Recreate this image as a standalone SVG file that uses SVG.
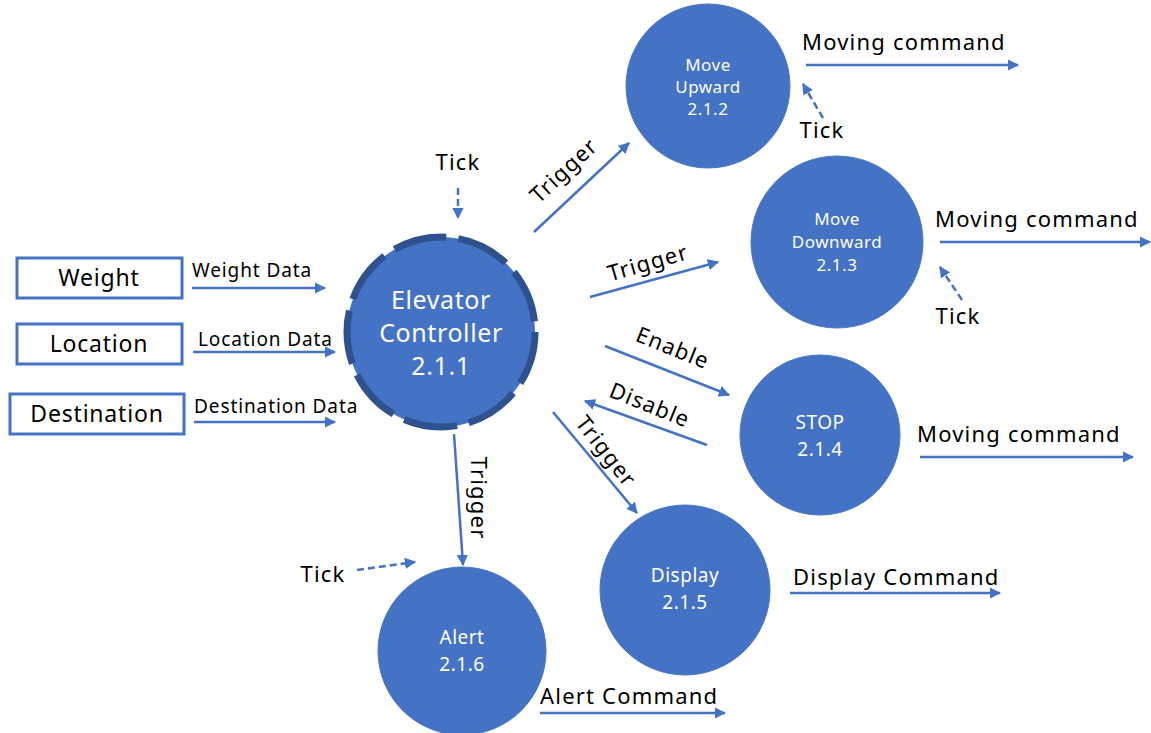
<svg xmlns="http://www.w3.org/2000/svg" width="1151" height="733" viewBox="0 0 1151 733">
  <style>
    text { font-family: "Noto Sans", "Open Sans", "Liberation Sans", sans-serif; }
    .proc { fill: #4472C4; stroke: #4A76C2; stroke-width: 1; }
    .ctrl { fill: #4472C4; stroke: #2F528F; stroke-width: 7; stroke-dasharray: 54 12; }
    .ext { fill: #FFFFFF; stroke: #4472C4; stroke-width: 3; }
    .in { fill: #FFFFFF; font-size: 17px; letter-spacing: 0.5px; text-anchor: middle; }
    .in2 { fill: #FFFFFF; font-size: 19px; letter-spacing: 0.5px; text-anchor: middle; }
    .big { fill: #FFFFFF; font-size: 25px; letter-spacing: 0.6px; text-anchor: middle; }
    .ext-t { fill: #000000; font-size: 23px; letter-spacing: 0.8px; text-anchor: middle; }
    .lbl { fill: #000000; font-size: 22px; letter-spacing: 1.2px; }
    .sm { fill: #000000; font-size: 19px; letter-spacing: 0.9px; }
    .flow { stroke: #4472C4; stroke-width: 2.5; fill: none; marker-end: url(#ah); }
    .tick { stroke: #4472C4; stroke-width: 2.5; fill: none; stroke-dasharray: 7 4; marker-end: url(#ah); }
  </style>
  <defs>
    <marker id="ah" viewBox="0 0 10 10" refX="9" refY="5" markerWidth="4.5" markerHeight="4.5" orient="auto" markerUnits="strokeWidth">
      <path d="M0,0 L10,5 L0,10 z" fill="#4472C4"/>
    </marker>
  </defs>

  <!-- external entities -->
  <g id="weight">
    <rect class="ext" x="17" y="258" width="165" height="40"/>
    <text class="ext-t" x="99" y="286">Weight</text>
  </g>
  <g id="location">
    <rect class="ext" x="17" y="324" width="165" height="40"/>
    <text class="ext-t" x="99" y="352">Location</text>
  </g>
  <g id="destination">
    <rect class="ext" x="10" y="394" width="174" height="40"/>
    <text class="ext-t" x="97" y="422">Destination</text>
  </g>

  <!-- processes -->
  <g id="elevator-controller">
    <ellipse class="ctrl" cx="441" cy="332" rx="94" ry="95"/>
    <text class="big" x="441" y="309">Elevator</text>
    <text class="big" x="441" y="342">Controller</text>
    <text class="big" x="441" y="375">2.1.1</text>
  </g>
  <g id="move-upward">
    <circle class="proc" cx="708" cy="86" r="82"/>
    <text class="in" x="708" y="71">Move</text>
    <text class="in" x="708" y="93">Upward</text>
    <text class="in" x="708" y="115">2.1.2</text>
  </g>
  <g id="move-downward">
    <circle class="proc" cx="837" cy="242" r="86"/>
    <text class="in" x="837" y="225">Move</text>
    <text class="in" x="837" y="248">Downward</text>
    <text class="in" x="837" y="271">2.1.3</text>
  </g>
  <g id="stop">
    <circle class="proc" cx="820" cy="435" r="80"/>
    <text class="in2" x="820" y="429">STOP</text>
    <text class="in2" x="820" y="456">2.1.4</text>
  </g>
  <g id="display">
    <circle class="proc" cx="685" cy="590" r="85"/>
    <text class="in2" x="685" y="582">Display</text>
    <text class="in2" x="685" y="609">2.1.5</text>
  </g>
  <g id="alert">
    <circle class="proc" cx="462" cy="651" r="84"/>
    <text class="in2" x="462" y="644">Alert</text>
    <text class="in2" x="462" y="671">2.1.6</text>
  </g>

  <!-- flows -->
  <g id="connectors">
    <line class="flow" x1="192" y1="288" x2="325" y2="288"/>
    <line class="flow" x1="193" y1="352" x2="335" y2="352"/>
    <line class="flow" x1="194" y1="422" x2="335" y2="422"/>
    <line class="flow" x1="534" y1="232" x2="629" y2="143"/>
    <line class="flow" x1="590" y1="297" x2="718" y2="262"/>
    <line class="flow" x1="605" y1="346" x2="729" y2="395"/>
    <line class="flow" x1="707" y1="445" x2="585" y2="401"/>
    <line class="flow" x1="553" y1="412" x2="637" y2="513"/>
    <line class="flow" x1="454" y1="434" x2="463" y2="565"/>
    <line class="flow" x1="806" y1="65" x2="1018" y2="65"/>
    <line class="flow" x1="940" y1="242" x2="1150" y2="242"/>
    <line class="flow" x1="920" y1="457" x2="1133" y2="457"/>
    <line class="flow" x1="790" y1="593" x2="1000" y2="593"/>
    <line class="flow" x1="540" y1="713" x2="725" y2="713"/>
    <line class="tick" x1="458" y1="188" x2="458" y2="218"/>
    <line class="tick" x1="357" y1="570" x2="415" y2="562"/>
    <line class="tick" x1="823" y1="118" x2="803" y2="84"/>
    <line class="tick" x1="962" y1="300" x2="940" y2="267"/>
  </g>

  <!-- flow labels -->
  <g id="labels">
    <text class="sm" x="192" y="277">Weight Data</text>
    <text class="sm" x="198" y="346">Location Data</text>
    <text class="sm" x="194" y="413">Destination Data</text>
    <text class="lbl" text-anchor="middle" transform="translate(569,176) rotate(-43)">Trigger</text>
    <text class="lbl" text-anchor="middle" transform="translate(650,270) rotate(-16)">Trigger</text>
    <text class="lbl" text-anchor="middle" transform="translate(670,355) rotate(22)">Enable</text>
    <text class="lbl" text-anchor="middle" transform="translate(647,412) rotate(22)">Disable</text>
    <text class="lbl" text-anchor="middle" transform="translate(600,456) rotate(52)">Trigger</text>
    <text class="lbl" text-anchor="middle" transform="translate(471,498) rotate(90)">Trigger</text>
    <text class="lbl" text-anchor="middle" x="458" y="170">Tick</text>
    <text class="lbl" text-anchor="middle" x="323" y="582">Tick</text>
    <text class="lbl" text-anchor="middle" x="822" y="138">Tick</text>
    <text class="lbl" text-anchor="middle" x="958" y="324">Tick</text>
    <text class="lbl" x="802" y="50">Moving command</text>
    <text class="lbl" x="935" y="227">Moving command</text>
    <text class="lbl" x="917" y="442">Moving command</text>
    <text class="lbl" x="793" y="585">Display Command</text>
    <text class="lbl" x="540" y="704">Alert Command</text>
  </g>
</svg>
